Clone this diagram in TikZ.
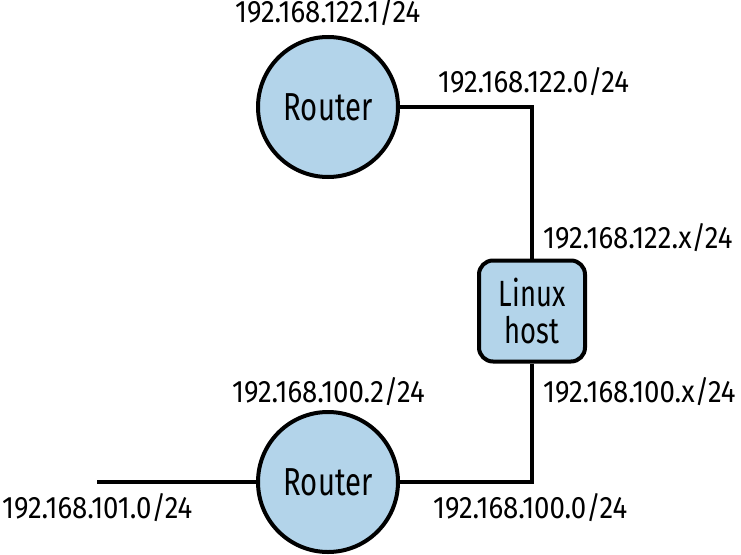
\documentclass[tikz,border=0pt]{standalone}
\usepackage{fontspec}
\setmainfont[FakeStretch=0.89]{Fira Sans}
\newfontfamily\nodefont[FakeStretch=0.75]{Fira Sans}
\definecolor{nodeblue}{RGB}{179,212,234}
\begin{document}
\begin{tikzpicture}[x=1pt,y=-1pt,
  every node/.style={font=\fontsize{31}{34}\selectfont},
  router/.style={circle,draw=black,line width=4pt,fill=nodeblue,minimum size=140pt,inner sep=0pt,font=\nodefont\fontsize{39}{42}\selectfont},
  hostbox/.style={rectangle,rounded corners=14pt,draw=black,line width=4pt,fill=nodeblue,minimum width=106pt,minimum height=101pt,align=center,inner sep=0pt,font=\nodefont\fontsize{36.5}{37}\selectfont},
  link/.style={line width=4pt},
  lbl/.style={inner sep=0pt,anchor=base west}]
\useasboundingbox (0,0) rectangle (741,554);
\node[router] (r1) at (328,107) {Router};
\node[router] (r2) at (328,482) {Router};
\node[hostbox] (h) at (532,311) {Linux\\host};
\coordinate (c1) at (532,107);
\coordinate (c2) at (532,482);
\coordinate (lend) at (97,482);
\draw[link] (r1.east) -- (c1) -- (h.north);
\draw[link] (h.south) -- (c2) -- (r2.east);
\draw[link] (lend) -- (r2.west);
\node[lbl] (l1) at (235,23) {192.168.122.1/24};
\node[lbl] (l2) at (438,92) {192.168.122.0/24};
\node[lbl] (l3) at (543,248) {192.168.122.x/24};
\node[lbl] (l4) at (232,402) {192.168.100.2/24};
\node[lbl] (l5) at (543,402) {192.168.100.x/24};
\node[lbl] (l6) at (433,518) {192.168.100.0/24};
\node[lbl] (l7) at (2,518) {192.168.101.0/24};
\end{tikzpicture}
\end{document}
